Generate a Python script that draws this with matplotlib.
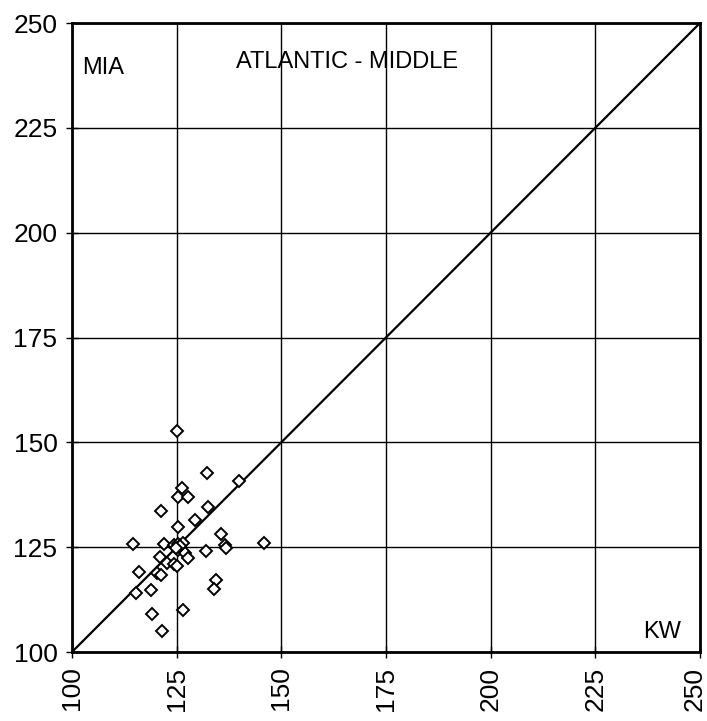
import numpy as np
import matplotlib.pyplot as plt
import matplotlib.transforms as mtransforms

plt.rcParams['font.family'] = ['Liberation Sans', 'DejaVu Sans']

# points (KW on x, MIA on y)
kw = [125.0, 132.2, 139.9, 126.2, 125.3, 127.7, 132.6, 121.2, 129.5, 125.3,
      135.5, 114.6, 122.1, 124.4, 125.3, 126.5, 136.5, 136.9, 145.9, 125.4,
      126.9, 132.0, 121.0, 127.8, 122.8, 124.4, 125.0, 116.0, 120.2, 121.3,
      134.4, 133.9, 115.4, 118.8, 119.2, 126.5, 121.6, 125.8, 124.8]
mia = [152.8, 142.8, 140.7, 139.1, 137.0, 136.9, 134.5, 133.7, 131.4, 129.9,
       128.2, 125.8, 125.8, 125.5, 125.8, 126.0, 125.6, 124.8, 126.0, 124.4,
       123.5, 124.0, 122.6, 122.5, 121.3, 121.0, 120.5, 119.1, 118.9, 118.3,
       117.1, 115.1, 114.1, 114.7, 109.1, 109.9, 105.0, 125.2, 124.9]
ticks = [100, 125, 150, 175, 200, 225, 250]

fig = plt.figure(figsize=(7.07, 7.21), dpi=100)
ax = fig.add_axes([0.1018, 0.0957, 0.8882, 0.8723])

ax.plot([100, 250], [100, 250], color='black', lw=1.6, zorder=2)
ax.plot(kw, mia, linestyle='none', marker='D', ms=6.5, mfc='white',
        mec='black', mew=1.4, zorder=3)

ax.set_xlim(100, 250)
ax.set_ylim(100, 250)
ax.set_xticks(ticks)
ax.set_yticks(ticks)
ax.set_xticklabels([str(t) for t in ticks], rotation=90)
ax.tick_params(labelsize=19, length=9, width=1, direction='inout', pad=6)
ax.grid(True, color='black', lw=1.0)
ax.set_axisbelow(True)
for s in ax.spines.values():
    s.set_linewidth(2)

# nudge the last x label so it stays inside the image
last = ax.get_xticklabels()[-1]
last.set_transform(last.get_transform() +
                   mtransforms.ScaledTranslation(-4 / 72, 0, fig.dpi_scale_trans))

ax.text(107.4, 239.3, 'MIA', fontsize=17, ha='center', va='center')
ax.text(165.7, 240.8, 'ATLANTIC - MIDDLE', fontsize=17, ha='center', va='center')
ax.text(240.9, 104.8, 'KW', fontsize=17, ha='center', va='center')

fig.savefig('out.png', dpi=100)
